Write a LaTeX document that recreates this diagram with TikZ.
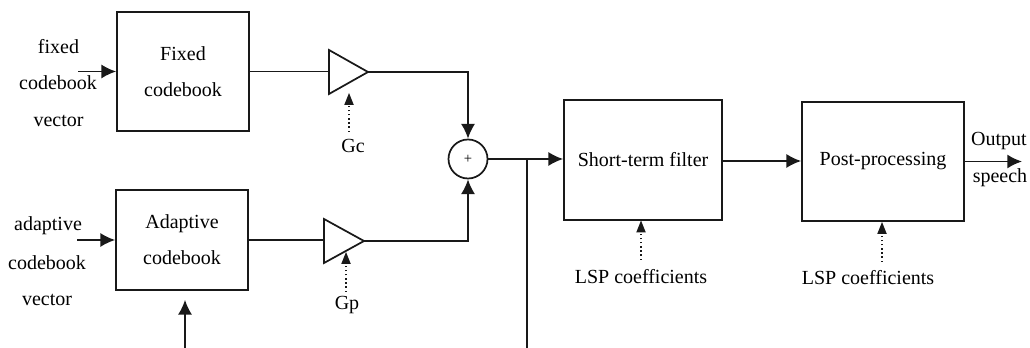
\documentclass[tikz,border=0pt]{standalone}
\usepackage{fontspec}
\setmainfont{Liberation Serif}
\usetikzlibrary{arrows.meta,calc}
\definecolor{ink}{RGB}{25,25,25}
\begin{document}
\begin{tikzpicture}[x=0.75pt,y=-0.75pt,
  every node/.style={text=black},
  lbl/.style={font=\fontsize{15}{27}\selectfont, align=center, inner sep=0pt},
  blk/.style={draw=ink, line width=1.3pt, rectangle, inner sep=0pt, font=\fontsize{15}{27}\selectfont, align=center},
  wire/.style={draw=ink, line width=1.3pt},
  arr/.style={wire, -{Latex[length=11pt,width=10.5pt]}},
  ctl/.style={draw=ink, line width=1.1pt, dotted},
  ctltip/.style={fill=ink, draw=none}
]
\useasboundingbox (0,0) rectangle (1030,348);

% blocks
\node[blk, minimum width=132*0.75pt, minimum height=119*0.75pt] (fixed) at (183,71.5) {Fixed\\codebook};
\node[blk, minimum width=132*0.75pt, minimum height=100*0.75pt] (adapt) at (182,240) {Adaptive\\codebook};
\node[blk, minimum width=158*0.75pt, minimum height=120*0.75pt] (filter) at (643,160) {Short-term filter};
\node[blk, minimum width=162*0.75pt, minimum height=119*0.75pt] (post) at (883,161.5) {Post-processing};
\node[draw=ink, line width=1.3pt, circle, minimum size=39*0.75pt, inner sep=0pt, font=\fontsize{11}{12}\selectfont] (sum) at (468,159) {+};

% gain triangles
\coordinate (gcl) at (329,72);
\coordinate (gca) at (368,72);
\draw[wire, line join=miter] (329,50) -- (329,94) -- (gca) -- cycle;
\coordinate (gpl) at (324,241);
\coordinate (gpa) at (364,241);
\draw[wire, line join=miter] (324,219) -- (324,263) -- (gpa) -- cycle;

% input labels
\node[lbl] (t1) at (58.5,47) {fixed};
\node[lbl] (t2) at (58,83) {codebook};
\node[lbl] (t3) at (58.5,121) {vector};
\node[lbl] (t4) at (48,226) {adaptive};
\node[lbl] (t5) at (47,263) {codebook};
\node[lbl] (t6) at (47,300) {vector};

\coordinate (fin) at (78,71.5);
\coordinate (ain) at (77,240);
\draw[arr] (fin) -- (fixed.west);
\draw[arr] (ain) -- (adapt.west);

% codebooks to gains
\draw[wire] (fixed.east) -- (fixed.east -| gcl);
\draw[wire] (adapt.east) -- (adapt.east -| gpl);

% gains to sum
\draw[arr] (gca) -- (gca -| sum.north) -- (sum.north);
\draw[arr] (gpa) -- (gpa -| sum.south) -- (sum.south);

% gain controls
\coordinate (gcs) at (349,132);
\coordinate (gce) at (349,93);
\draw[ctl] (gcs) -- ($(gce)+(0,11)$);
\fill[ctltip] (gce) -- ++(-4.8,12) -- ++(9.6,0) -- cycle;
\node[lbl] (gc) at (353,146) {Gc};
\coordinate (gps) at (346,292);
\coordinate (gpe) at (346,252);
\draw[ctl] (gps) -- ($(gpe)+(0,11)$);
\fill[ctltip] (gpe) -- ++(-4.8,12) -- ++(9.6,0) -- cycle;
\node[lbl] (gp) at (347,305) {Gp};

% sum to filter, feedback branch
\draw[arr] (sum.east) -- (sum.east -| filter.west);
\coordinate (jn) at (527,159);
\coordinate (jb) at (527,348);
\draw[wire] (jn) -- (jb);
\coordinate (fb) at (185,348);
\draw[arr, shorten >=6.75pt] (fb) -- (fb |- adapt.south);

% filter to post, output
\draw[arr] (filter.east |- 0,161) -- (post.west |- 0,161);
\coordinate (out) at (1022,161.5);
\draw[arr] (post.east) -- (out);
\node[lbl] (o1) at (999,141) {Output};
\node[lbl] (o2) at (1000,178) {speech};

% LSP controls
\coordinate (l1) at (641,260);
\coordinate (l1e) at (641,220.5);
\draw[ctl] (l1) -- ($(l1e)+(0,11)$);
\fill[ctltip] (l1e) -- ++(-4.8,12) -- ++(9.6,0) -- cycle;
\node[lbl] (lsp1) at (641,277) {LSP coefficients};
\coordinate (l2) at (882,262);
\coordinate (l2e) at (882,222);
\draw[ctl] (l2) -- ($(l2e)+(0,11)$);
\fill[ctltip] (l2e) -- ++(-4.8,12) -- ++(9.6,0) -- cycle;
\node[lbl] (lsp2) at (868,278) {LSP coefficients};
\end{tikzpicture}
\end{document}
